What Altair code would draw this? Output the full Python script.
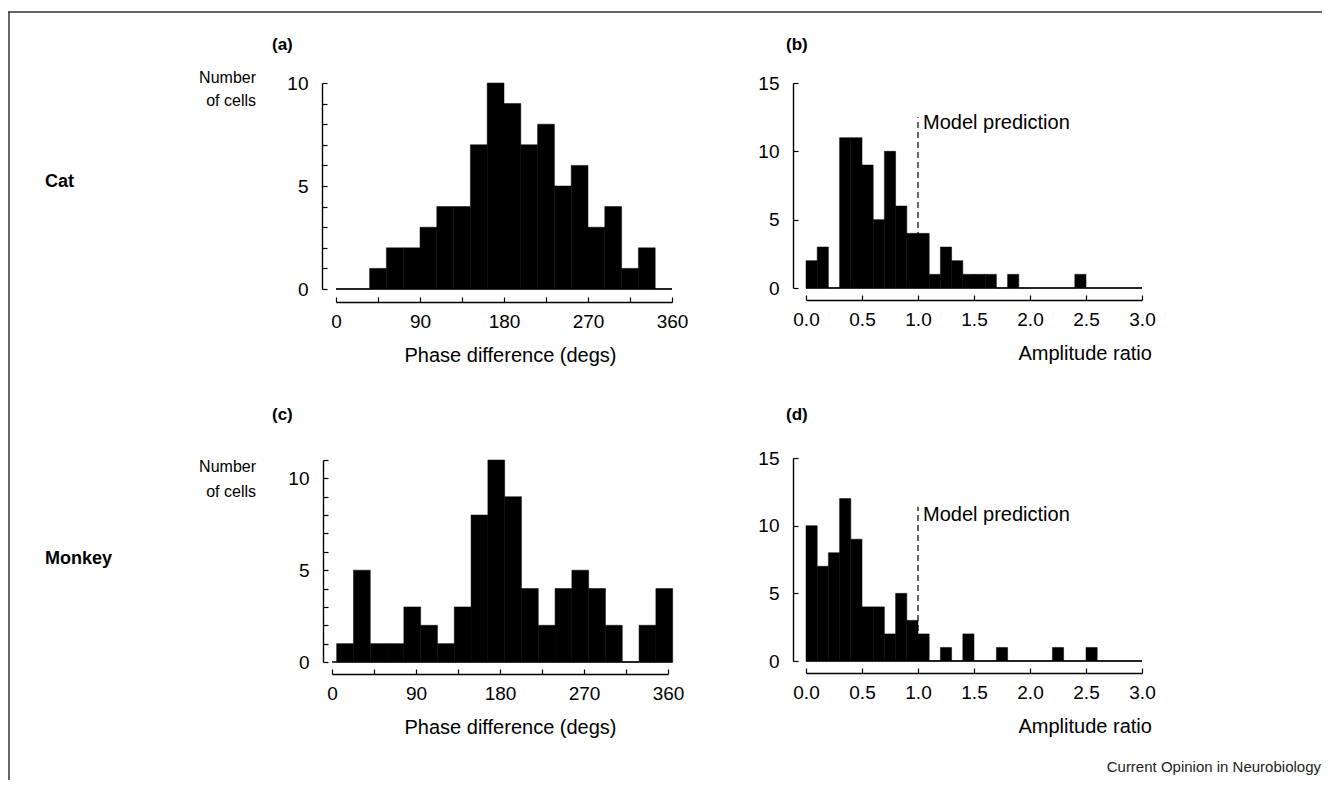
import altair as alt
import pandas as pd

# ---------------- data ----------------
phase_bin_width = 18
cat_phase_first_edge = 0
cat_phase_counts = [0, 0, 1, 2, 2, 3, 4, 4, 7, 10, 9, 7, 8, 5, 6, 3, 4, 1, 2, 0]
monkey_phase_first_edge = 5
monkey_phase_counts = [1, 5, 1, 1, 3, 2, 1, 3, 8, 11, 9, 4, 2, 4, 5, 4, 2, 0, 2, 4]

amp_bin_width = 0.1
amp_first_edge = 0.0
cat_amp_counts = [2, 3, 0, 11, 11, 9, 5, 10, 6, 4, 4, 1, 3, 2, 1, 1, 1, 0, 1, 0,
                  0, 0, 0, 0, 1, 0, 0, 0, 0, 0]
monkey_amp_counts = [10, 7, 8, 12, 9, 4, 4, 2, 5, 3, 2, 0, 1, 0, 2, 0, 0, 1, 0, 0,
                     0, 0, 1, 0, 0, 1, 0, 0, 0, 0]
model_prediction = 1.0

phase_ticks = [0, 45, 90, 135, 180, 225, 270, 315, 360]
amp_ticks = [0.0, 0.5, 1.0, 1.5, 2.0, 2.5, 3.0]
cat_phase_yticks = list(range(0, 11))
monkey_phase_yticks = list(range(0, 12))
amp_yticks = [0, 5, 10, 15]

row_labels = ["Cat", "Monkey"]
panel_labels = ["(a)", "(b)", "(c)", "(d)"]
y_title_lines = ["Number", "of cells"]
phase_title = "Phase difference (degs)"
amp_title = "Amplitude ratio"
pred_label = "Model prediction"
footer = "Current Opinion in Neurobiology"

# ---------------- layout / style ----------------
W, H = 1314, 772
FONT = "Liberation Sans"
TICK_FS = 19
TITLE_FS = 20

LAYOUT = {
    "a": dict(xdom=[0, 360], ydom=[0, 10], xr=[328, 664], yr=[281, 75], xaxis_y=294, yaxis_x=314,
              title_x=502, title_dy=53, title_align="center"),
    "b": dict(xdom=[0, 3], ydom=[0, 15], xr=[798, 1134], yr=[280, 75], xaxis_y=292, yaxis_x=785,
              title_x=1010, title_dy=53, title_align="left", pred_top=12.5, pred_text_y=12.1),
    "c": dict(xdom=[0, 360], ydom=[0, 11], xr=[324, 660], yr=[654, 452], xaxis_y=666, yaxis_x=315,
              title_x=502, title_dy=53, title_align="center"),
    "d": dict(xdom=[0, 3], ydom=[0, 15], xr=[798, 1134], yr=[653, 450], xaxis_y=665, yaxis_x=785,
              title_x=1010, title_dy=53, title_align="left", pred_top=11.4, pred_text_y=10.8),
}


def hist_df(first, width, counts):
    return pd.DataFrame({
        "start": [first + i * width for i in range(len(counts))],
        "end": [first + (i + 1) * width for i in range(len(counts))],
        "count": counts,
    })


LINE = dict(domainColor="black", domainWidth=1.4, tickColor="black", tickWidth=1.2, grid=False)
LABELS = dict(labelColor="black", labelFont=FONT, labelFontSize=TICK_FS,
              labelFlush=False, labelOverlap=False)


def panel(df, p, xticks, xlabel_expr, yticks, xtitle):
    xsc = alt.Scale(domain=p["xdom"], range=p["xr"], nice=False, zero=False)
    ysc = alt.Scale(domain=p["ydom"], range=p["yr"], nice=False, zero=False)

    # main axes: domain line + labels (outside), no ticks
    xaxis = alt.Axis(orient="bottom", offset=p["xaxis_y"] - H, values=xticks, ticks=False,
                     labelExpr=xlabel_expr, labelPadding=10, title=xtitle,
                     titleX=p["title_x"], titleY=p["title_dy"], titleAlign=p["title_align"],
                     titleBaseline="middle", titleFont=FONT, titleFontSize=TITLE_FS,
                     titleFontWeight="normal", titleColor="black", **LINE, **LABELS)
    yaxis = alt.Axis(orient="left", offset=-p["yaxis_x"], values=yticks, ticks=False,
                     labelExpr="datum.value % 5 == 0 ? datum.label : ''",
                     labelPadding=14, title=None, **LINE, **LABELS)
    # inward ticks: tick-only axes on the opposite orientation, placed on the same lines
    xticks_axis = alt.Axis(orient="top", offset=-p["xaxis_y"], values=xticks, labels=False,
                           domain=False, tickSize=5, title=None, **LINE)
    yticks_axis = alt.Axis(orient="right", offset=p["yaxis_x"] - W, values=yticks, labels=False,
                           domain=False, tickSize=5, title=None, **LINE)

    bars = alt.Chart(df).mark_rect(color="black", stroke="black", strokeWidth=0.5).encode(
        x=alt.X("start:Q", scale=xsc, axis=xaxis),
        x2="end:Q",
        y=alt.Y("count:Q", scale=ysc, axis=yaxis),
        y2=alt.datum(0),
    )
    last_end = float(df["end"].max())
    base_df = pd.DataFrame({"x0": [p["xdom"][0]], "x1": [max(p["xdom"][1], last_end)], "y": [0]})
    base = alt.Chart(base_df).mark_rule(color="black", strokeWidth=1.4).encode(
        x=alt.X("x0:Q", scale=xsc, axis=xticks_axis), x2="x1:Q",
        y=alt.Y("y:Q", scale=ysc, axis=yticks_axis),
    )
    layers = [bars, base]
    if "pred_top" in p:
        pdf = pd.DataFrame({"x": [model_prediction], "y0": [0], "y1": [p["pred_top"]],
                            "ty": [p["pred_text_y"]], "t": [pred_label]})
        dash = alt.Chart(pdf).mark_rule(color="black", strokeWidth=1.2, strokeDash=[6, 4]).encode(
            x=alt.X("x:Q", scale=xsc, axis=None),
            y=alt.Y("y0:Q", scale=ysc, axis=None), y2="y1:Q",
        )
        txt = alt.Chart(pdf).mark_text(align="left", baseline="middle", dx=5, font=FONT,
                                       fontSize=20, color="black").encode(
            x=alt.X("x:Q", scale=xsc, axis=None),
            y=alt.Y("ty:Q", scale=ysc, axis=None),
            text="t:N",
        )
        layers += [dash, txt]
    return layers


phase_expr = "datum.value % 90 == 0 ? datum.label : ''"
amp_expr = "format(datum.value, '.1f')"

layers = []
layers += panel(hist_df(cat_phase_first_edge, phase_bin_width, cat_phase_counts), LAYOUT["a"],
                phase_ticks, phase_expr, cat_phase_yticks, phase_title)
layers += panel(hist_df(amp_first_edge, amp_bin_width, cat_amp_counts), LAYOUT["b"],
                amp_ticks, amp_expr, amp_yticks, amp_title)
layers += panel(hist_df(monkey_phase_first_edge, phase_bin_width, monkey_phase_counts), LAYOUT["c"],
                phase_ticks, phase_expr, monkey_phase_yticks, phase_title)
layers += panel(hist_df(amp_first_edge, amp_bin_width, monkey_amp_counts), LAYOUT["d"],
                amp_ticks, amp_expr, amp_yticks, amp_title)


def text(t, x, y, size, weight="normal", align="left", color="black"):
    return alt.Chart(pd.DataFrame({"t": [t]})).mark_text(
        align=align, baseline="middle", font=FONT, fontSize=size, fontWeight=weight, color=color
    ).encode(text="t:N", x=alt.value(x), y=alt.value(y))


deco = [
    text(panel_labels[0], 264, 37, 17, "bold"),
    text(panel_labels[1], 778, 37, 17, "bold"),
    text(panel_labels[2], 264, 407, 17, "bold"),
    text(panel_labels[3], 778, 407, 17, "bold"),
    text(y_title_lines[0], 248, 70, 16, align="right"),
    text(y_title_lines[1], 248, 93, 16, align="right"),
    text(y_title_lines[0], 248, 459, 16, align="right"),
    text(y_title_lines[1], 248, 484, 16, align="right"),
    text(row_labels[0], 37, 174, 18, "bold"),
    text(row_labels[1], 37, 551, 18, "bold"),
    text(footer, 1313, 759, 15, align="right", color="#222"),
]

frame_top = alt.Chart(pd.DataFrame({"k": [0]})).mark_rule(color="#333", strokeWidth=1.5).encode(
    x=alt.value(0), x2=alt.value(W), y=alt.value(4))
frame_left = alt.Chart(pd.DataFrame({"k": [0]})).mark_rule(color="#333", strokeWidth=1.5).encode(
    x=alt.value(1), y=alt.value(4), y2=alt.value(H))

chart = alt.layer(*layers, frame_top, frame_left, *deco).resolve_scale(
    x="independent", y="independent"
).properties(
    width=W, height=H, padding=0, autosize=alt.AutoSizeParams(type="none"), background="white"
).configure_view(stroke=None)

chart.save("out.html", embed_options={"renderer": "svg", "actions": False})
